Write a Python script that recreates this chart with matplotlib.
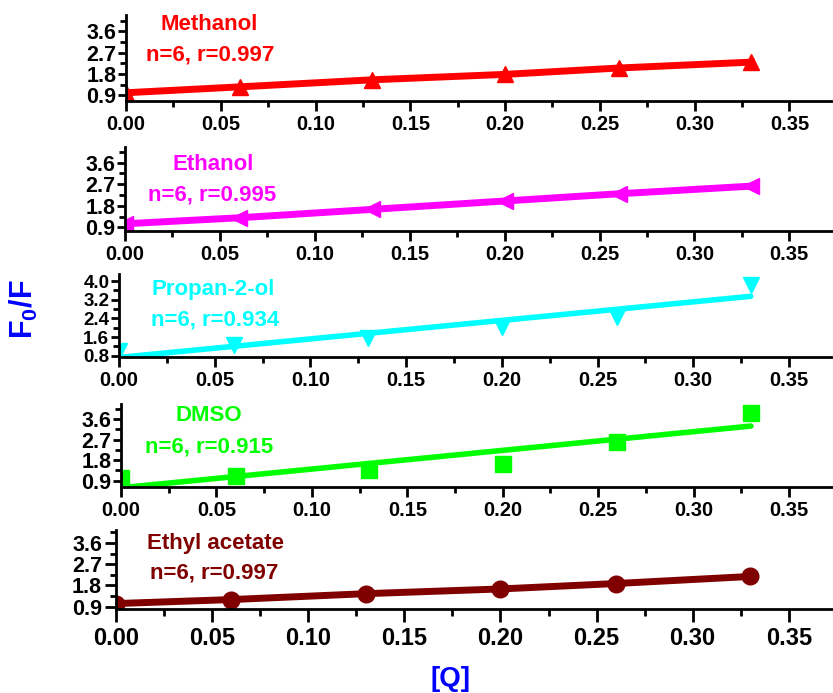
import numpy as np
import matplotlib
matplotlib.use('Agg')
import matplotlib.pyplot as plt
from matplotlib.ticker import MultipleLocator

plt.rcParams['font.family'] = ['Liberation Sans', 'DejaVu Sans']
plt.rcParams['font.weight'] = 'bold'
plt.rcParams['mathtext.fontset'] = 'custom'
plt.rcParams['mathtext.rm'] = 'Liberation Sans:bold'
plt.rcParams['mathtext.bf'] = 'Liberation Sans:bold'

# [Q] concentrations, same for every solvent
conc = [0.00, 0.06, 0.13, 0.20, 0.26, 0.33]

solvents = ['Methanol', 'Ethanol', 'Propan-2-ol', 'DMSO', 'Ethyl acetate']
stats = ['n=6, r=0.997', 'n=6, r=0.995', 'n=6, r=0.934', 'n=6, r=0.915', 'n=6, r=0.997']

methanol = [1.00, 1.25, 1.55, 1.78, 2.05, 2.30]
ethanol = [1.05, 1.30, 1.65, 2.00, 2.30, 2.62]
propanol = [1.00, 1.25, 1.55, 2.05, 2.45, 3.85]
dmso = [1.00, 1.10, 1.37, 1.65, 2.60, 3.86]
ethyl_acetate = [1.03, 1.20, 1.45, 1.65, 1.88, 2.18]

series = [methanol, ethanol, propanol, dmso, ethyl_acetate]
colors = ['#ff0000', '#ff00ff', '#00ffff', '#00ff00', '#800000']
markers = ['^', '<', 'v', 's', 'o']
# panels where the line is a linear fit instead of point-to-point
fit_line = [False, False, True, True, False]

yticks = [[0.9, 1.8, 2.7, 3.6], [0.9, 1.8, 2.7, 3.6], [0.8, 1.6, 2.4, 3.2, 4.0],
          [0.9, 1.8, 2.7, 3.6], [0.9, 1.8, 2.7, 3.6]]

W, H = 833, 693
# pixel boxes: left, top, bottom
boxes = [(126, 15, 101), (125, 147, 231), (119, 274, 357), (121, 404, 487), (116, 530, 609)]
ylims = [(0.65, 4.3), (0.75, 4.25), (0.75, 4.3), (0.62, 4.27), (0.8, 4.15)]
title_pos = [(0.117, 0.884), (0.124, 0.786), (0.132, 0.816), (0.124, 0.867), (0.139, 0.823)]
stat_pos = [(0.119, 0.535), (0.123, 0.429), (0.134, 0.446), (0.124, 0.486), (0.137, 0.452)]

fig = plt.figure(figsize=(W / 100, H / 100), dpi=100)

x = np.array(conc)
for i in range(5):
    left, top, bottom = boxes[i]
    ax = fig.add_axes([left / W, 1 - bottom / H, 1 - left / W, (bottom - top) / H])
    y = np.array(series[i])
    c = colors[i]
    if fit_line[i]:
        slope, icpt = np.polyfit(x, y, 1)
        ax.plot(x, slope * x + icpt, color=c, lw=4, solid_capstyle='round')
        ax.plot(x, y, linestyle='none', marker=markers[i], color=c, ms=11)
    else:
        ax.plot(x, y, color=c, lw=5, marker=markers[i], ms=12)

    ax.set_xlim(0, 0.373)
    ax.set_ylim(*ylims[i])
    ax.xaxis.set_major_locator(MultipleLocator(0.05))
    ax.xaxis.set_minor_locator(MultipleLocator(0.025))
    ax.set_yticks(yticks[i])
    step = yticks[i][1] - yticks[i][0]
    ax.yaxis.set_minor_locator(MultipleLocator(step / 2))
    ax.set_xticklabels([f'{v:.2f}' for v in ax.get_xticks()])
    ax.set_yticklabels([f'{v:.1f}' for v in yticks[i]])

    for s in ['top', 'right']:
        ax.spines[s].set_visible(False)
    for s in ['left', 'bottom']:
        ax.spines[s].set_linewidth(2)

    last = (i == 4)
    ax.tick_params(axis='x', which='major', length=9 if last else 7, width=2,
                   labelsize=17 if last else 14.5, pad=4 if last else 3)
    ax.tick_params(axis='x', which='minor', length=5 if last else 4, width=2)
    ax.tick_params(axis='y', which='major', length=8 if last else 6, width=2,
                   labelsize=13.5 if i == 2 else 15.5, pad=2 if last else 1)
    ax.tick_params(axis='y', which='minor', length=4, width=2)

    ax.text(title_pos[i][0], title_pos[i][1], solvents[i], transform=ax.transAxes,
            color=c, fontsize=16, fontweight='bold', ha='center', va='center')
    ax.text(stat_pos[i][0], stat_pos[i][1], stats[i], transform=ax.transAxes,
            color=c, fontsize=16, fontweight='bold', ha='center', va='center')

fig.text(24 / W, 1 - 309 / H, r'F$_\mathbf{0}$/F', rotation=90, color='blue',
         fontsize=22, fontweight='bold', ha='center', va='center')
fig.text(451 / W, 1 - 679 / H, '[Q]', color='blue', fontsize=20,
         fontweight='bold', ha='center', va='center')

fig.savefig('out.png', dpi=100)
